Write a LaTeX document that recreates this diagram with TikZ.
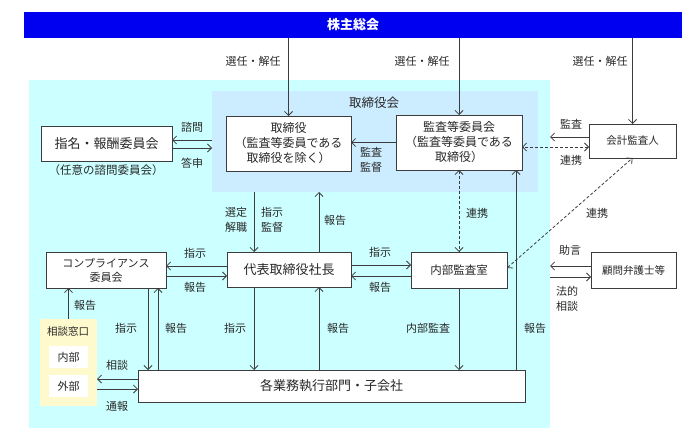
\documentclass[tikz,border=0pt]{standalone}
\usepackage{fontspec}
\setmainfont{Noto Sans CJK JP}
\usetikzlibrary{arrows.meta}
\definecolor{barblue}{RGB}{0,0,240}
\definecolor{bgcyan}{RGB}{204,255,255}
\definecolor{boardblue}{RGB}{204,236,255}
\definecolor{soudanyel}{RGB}{255,250,206}
\definecolor{edge}{RGB}{60,60,60}
\definecolor{txt}{RGB}{40,40,40}
\begin{document}
\begin{tikzpicture}[x=1pt,y=-1pt,
  every node/.style={inner sep=0pt, outer sep=0pt, text=txt},
  box/.style={draw=edge, line width=0.8pt, fill=white, align=center, font=\fontsize{12}{15}\selectfont},
  sbox/.style={box, font=\fontsize{10.5}{14}\selectfont},
  lbl/.style={font=\fontsize{11}{15}\selectfont, align=center},
  arr/.style={draw=edge, line width=0.8pt, -{Straight Barb[length=4pt,width=8pt]}},
  darr/.style={draw=edge, line width=0.8pt, dash pattern=on 3pt off 2pt, {Straight Barb[length=4pt,width=8pt]}-{Straight Barb[length=4pt,width=8pt]}},
]
\path[use as bounding box] (0,0) rectangle (700,430);

% backgrounds
\node (bg) [fill=bgcyan, minimum width=521pt, minimum height=348pt] at (289.5,254) {};
\node (board) [fill=boardblue, minimum width=326pt, minimum height=101pt] at (375,141.5) {};
\node (bar) [fill=barblue, minimum width=658pt, minimum height=26pt, text=white, font=\fontsize{13}{15}\selectfont\bfseries] at (353,25) {株主総会};
\node (boardlbl) [font=\fontsize{12.5}{15}\selectfont] at (374,103) {取締役会};

% boxes
\node (tori) [box, minimum width=125pt, minimum height=55pt] at (288.5,143.5) {取締役\\（監査等委員である\\取締役を除く）};
\node (kansa) [box, minimum width=126pt, minimum height=55pt] at (459,142.5) {監査等委員会\\（監査等委員である\\取締役）};
\node (kaikei) [sbox, minimum width=87pt, minimum height=34pt] at (632.5,141) {会計監査人};
\node (shimei) [box, font=\fontsize{13}{15}\selectfont, minimum width=131pt, minimum height=35pt] at (106.5,143.5) {指名・報酬委員会};
\node (shimeicap) [lbl, font=\fontsize{11.5}{15}\selectfont] at (106,170) {（任意の諮問委員会）};
\node (daihyo) [box, font=\fontsize{13}{15}\selectfont, minimum width=124pt, minimum height=35pt] at (289,269.5) {代表取締役社長};
\node (comp) [box, font=\fontsize{11}{14}\selectfont, minimum width=120pt, minimum height=36pt] at (106,270) {コンプライアンス\\委員会};
\node (naibu) [box, font=\fontsize{11.5}{14}\selectfont, minimum width=96pt, minimum height=36pt] at (459,270) {内部監査室};
\node (komon) [sbox, minimum width=85pt, minimum height=36pt] at (633.5,270) {顧問弁護士等};
\node (kaku) [box, font=\fontsize{13}{15}\selectfont, minimum width=387pt, minimum height=32pt] at (331.5,386) {各業務執行部門・子会社};
\node (soudan) [fill=soudanyel, minimum width=57pt, minimum height=87pt] at (68.5,362.5) {};
\node (soudanlbl) [lbl, font=\fontsize{10.5}{14}\selectfont] at (68,332) {相談窓口};
\node (nai) [fill=white, minimum width=39pt, minimum height=22pt, font=\fontsize{11}{14}\selectfont] at (68.5,357) {内部};
\node (gai) [fill=white, minimum width=39pt, minimum height=22pt, font=\fontsize{11}{14}\selectfont] at (68.5,386) {外部};

% helper coordinates
\coordinate (s1) at ([yshift=3.5pt]shimei.east);
\coordinate (s2) at ([yshift=-4.5pt]shimei.east);
\coordinate (k1) at ([yshift=4pt]kaikei.west);
\coordinate (k2) at ([yshift=-6pt]kaikei.west);
\coordinate (kr) at ([xshift=57pt]kansa.south);
\coordinate (d1) at ([xshift=-35pt]daihyo.north);
\coordinate (d2) at ([xshift=30pt]daihyo.north);
\coordinate (d3) at ([yshift=3.5pt]daihyo.west);
\coordinate (d4) at ([yshift=-6.5pt]daihyo.west);
\coordinate (d5) at ([yshift=4.5pt]daihyo.east);
\coordinate (d6) at ([yshift=-6.5pt]daihyo.east);
\coordinate (d7) at ([xshift=-35pt]daihyo.south);
\coordinate (d8) at ([xshift=30pt]daihyo.south);
\coordinate (c1) at ([xshift=42pt]comp.south);
\coordinate (c2) at ([xshift=52pt]comp.south);
\coordinate (g1) at ([yshift=7pt]kaku.west);
\coordinate (g2) at ([yshift=-3pt]kaku.west);
\coordinate (b1) at ([yshift=4pt]komon.west);
\coordinate (b2) at ([yshift=-7pt]komon.west);
\coordinate (ne) at ([yshift=2pt]naibu.east);

% connectors
\draw[arr] (bar.south -| tori.north) -- (tori.north);
\draw[arr] (bar.south -| kansa.north) -- (kansa.north);
\draw[arr] (bar.south -| kaikei.north) -- (kaikei.north);
\draw[arr] (s1 -| board.west) -- (s1);
\draw[arr] (s2) -- (s2 -| board.west);
\draw[arr] (kansa.west) -- (kansa.west -| tori.east);
\draw[arr] (k1) -- (k1 -| bg.east);
\draw[darr] (k2) -- (k2 -| kansa.east);
\draw[darr] (kansa.south) -- (naibu.north);
\draw[darr] (ne) -- (kaikei.south);
\draw[arr] (kr |- kaku.north) -- (kr);
\draw[arr] (d1 |- board.south) -- (d1);
\draw[arr] (d2) -- (d2 |- board.south);
\draw[arr] (d3) -- (d3 -| comp.east);
\draw[arr] (d4 -| comp.east) -- (d4);
\draw[arr] (d5) -- (d5 -| naibu.west);
\draw[arr] (d6 -| naibu.west) -- (d6);
\draw[arr] (d7) -- (d7 |- kaku.north);
\draw[arr] (d8 |- kaku.north) -- (d8);
\draw[arr] (c1) -- (c1 |- kaku.north);
\draw[arr] (c2 |- kaku.north) -- (c2);
\draw[arr] (soudan.north) -- (soudan.north |- comp.south);
\draw[arr] (g1) -- (g1 -| soudan.east);
\draw[arr] (g2 -| soudan.east) -- (g2);
\draw[arr] (naibu.south) -- (naibu.south |- kaku.north);
\draw[arr] (b1) -- (b1 -| bg.east);
\draw[arr] (b2 -| bg.east) -- (b2);

% labels
\node (l1) [lbl] at (253,61) {選任・解任};
\node (l2) [lbl] at (422,61) {選任・解任};
\node (l3) [lbl] at (600,61) {選任・解任};
\node (l4) [lbl] at (192,127) {諮問};
\node (l5) [lbl] at (192,163) {答申};
\node (l6) [lbl] at (371,160) {監査\\監督};
\node (l7) [lbl] at (571,124) {監査};
\node (l8) [lbl] at (571,160) {連携};
\node (l9) [lbl] at (477,213) {連携};
\node (l10) [lbl] at (597,213) {連携};
\node (l11) [lbl] at (236,220) {選定\\解職};
\node (l12) [lbl] at (272,220) {指示\\監督};
\node (l13) [lbl] at (335,220) {報告};
\node (l14) [lbl] at (195,253) {指示};
\node (l15) [lbl] at (195,287) {報告};
\node (l16) [lbl] at (380,252) {指示};
\node (l17) [lbl] at (380,287) {報告};
\node (l18) [lbl] at (570,250) {助言};
\node (l19) [lbl] at (567,299) {法的\\相談};
\node (l20) [lbl] at (85,305) {報告};
\node (l21) [lbl] at (126,328) {指示};
\node (l22) [lbl] at (176,328) {報告};
\node (l23) [lbl] at (235,328) {指示};
\node (l24) [lbl] at (338,328) {報告};
\node (l25) [lbl] at (428,328) {内部監査};
\node (l26) [lbl] at (535,328) {報告};
\node (l27) [lbl] at (117,365) {相談};
\node (l28) [lbl] at (117,406) {通報};
\end{tikzpicture}
\end{document}
